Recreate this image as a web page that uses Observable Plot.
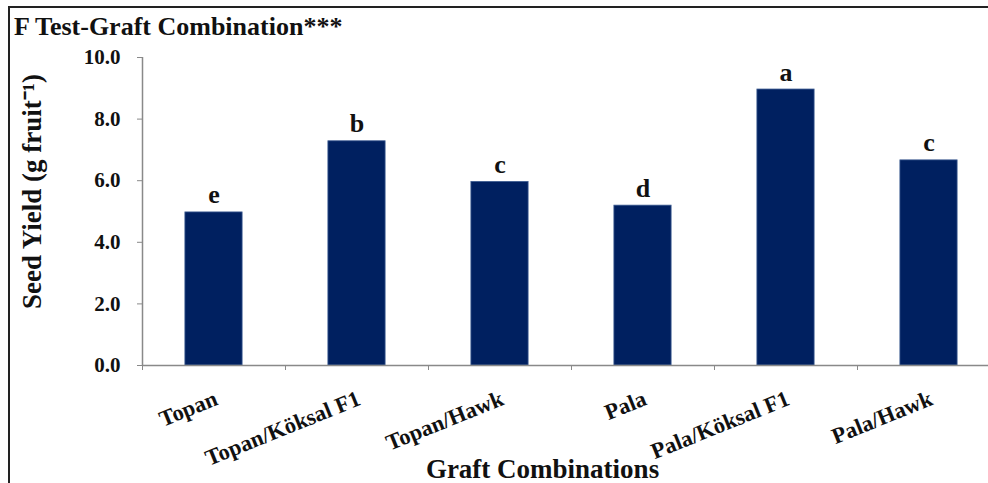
<!DOCTYPE html>
<html>
<head>
<meta charset="utf-8">
<script src="https://cdn.jsdelivr.net/npm/d3@7"></script>
<script src="https://cdn.jsdelivr.net/npm/@observablehq/plot@0.6"></script>
<style>
  html, body { margin: 0; padding: 0; background: #fff; }
  #wrap { position: relative; width: 988px; height: 483px; overflow: hidden; }
  #frameL { position: absolute; left: 8px; top: 6px; width: 2px; height: 477px; background: #222; }
  #frameT { position: absolute; left: 8px; top: 6px; width: 980px; height: 2px; background: #222; }
  #title { position: absolute; left: 14px; top: 14px; font-family: "Liberation Serif", serif; font-weight: bold; font-size: 26px; line-height: 26px; color: #111; white-space: nowrap; }
  #chart { position: absolute; left: 0; top: 0; }
  #chart svg, #chart svg text { font-family: "Liberation Serif", serif !important; font-weight: bold; }
</style>
</head>
<body>
<div id="wrap">
  <div id="chart"></div>
  <div id="frameL"></div>
  <div id="frameT"></div>
  <div id="title">F Test-Graft Combination***</div>
</div>
<script>
const categories = ["Topan", "Topan/Köksal F1", "Topan/Hawk", "Pala", "Pala/Köksal F1", "Pala/Hawk"];
const seedYield = [4.97, 7.28, 5.96, 5.19, 8.96, 6.66];
const letters = ["e", "b", "c", "d", "a", "c"];
const yTicks = [0, 2, 4, 6, 8, 10];
const xTitle = "Graft Combinations";
const yTitle = "Seed Yield (g fruit\u207B\u00B9)";

const data = categories.map((c, i) => ({i, category: c, value: seedYield[i], letter: letters[i]}));
const boundaries = d3.range(categories.length + 1);
const axisColor = "#898989";
const serif = "Liberation Serif";

const chart = Plot.plot({
  width: 988,
  height: 483,
  marginLeft: 142,
  marginRight: 0,
  marginTop: 57,
  marginBottom: 118,
  style: {fontFamily: serif, fontWeight: "bold", color: "#111", background: "transparent", overflow: "visible"},
  x: {domain: [0, categories.length], range: [142, 1000]},
  y: {domain: [0, 10]},
  marks: [
    Plot.rectY(data, {x1: d => d.i + 0.3, x2: d => d.i + 0.7, y: "value", fill: "#002060", stroke: "#3d5c92", strokeWidth: 0.8}),
    Plot.ruleY([0], {stroke: axisColor, strokeWidth: 1.5}),
    Plot.ruleX([0], {stroke: axisColor, strokeWidth: 1.5}),
    Plot.axisY({ticks: yTicks, tickFormat: d => d.toFixed(1), tickSize: 5, tickPadding: 17, fontSize: 21, stroke: axisColor, label: null, fontFamily: serif}),
    Plot.axisX({ticks: boundaries, tickSize: 5, tickFormat: () => "", stroke: axisColor, label: null}),
    Plot.text(data, {x: d => d.i + 0.5, y: "value", text: "letter", dy: -9, lineAnchor: "bottom", fontSize: 26, fontFamily: serif, fontWeight: "bold"}),
    Plot.text(data, {x: d => d.i + 0.5, frameAnchor: "bottom", text: "category", rotate: -22, textAnchor: "end", lineAnchor: "top", dy: 24, dx: -1, fontSize: 22.5, fontFamily: serif, fontWeight: "bold"}),
    Plot.text([xTitle], {text: d => d, frameAnchor: "bottom", dx: -23, dy: 112, lineAnchor: "bottom", fontSize: 27, fontFamily: serif, fontWeight: "bold"}),
    Plot.text([yTitle], {text: d => d, frameAnchor: "left", rotate: -90, dx: -110, dy: -20, lineAnchor: "middle", textAnchor: "middle", fontSize: 27, fontFamily: serif, fontWeight: "bold"})
  ]
});
document.getElementById("chart").appendChild(chart);
</script>
</body>
</html>
